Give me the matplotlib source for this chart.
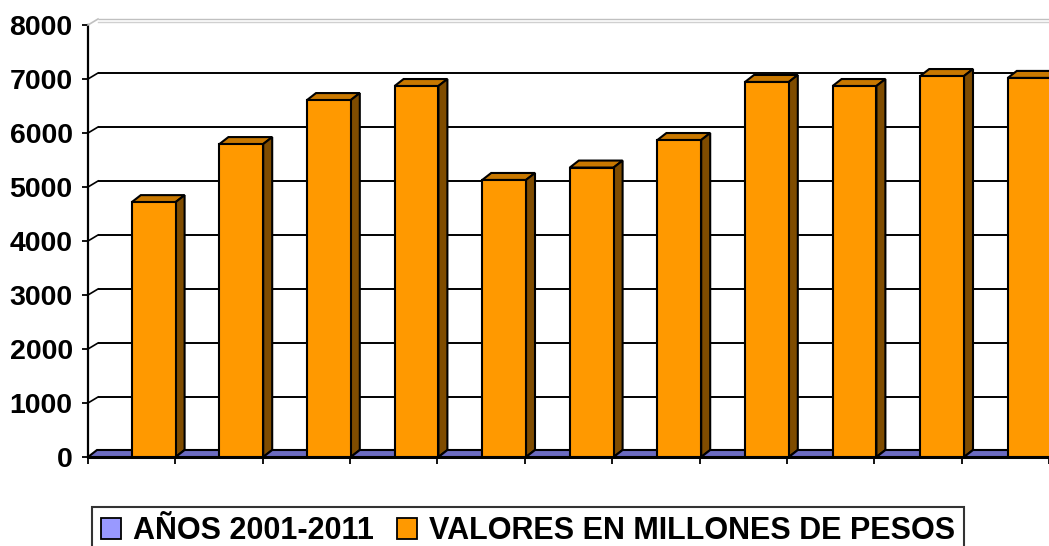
import matplotlib
matplotlib.use("Agg")
import matplotlib.pyplot as plt
from matplotlib.patches import Polygon, Patch
from matplotlib import transforms

plt.rcParams['font.family'] = ['Liberation Sans', 'DejaVu Sans']

years = ["2001", "2002", "2003", "2004", "2005", "2006", "2007", "2008", "2009", "2010", "2011"]
anos_values = [0, 0, 0, 0, 0, 0, 0, 0, 0, 0, 0]
valores = [4720, 5795, 6610, 6870, 5130, 5360, 5870, 6945, 6870, 7055, 7020]
yticks = [0, 1000, 2000, 3000, 4000, 5000, 6000, 7000, 8000]
series_names = ["AÑOS 2001-2011", "VALORES EN MILLONES DE PESOS"]

W, H = 1049, 546
fig = plt.figure(figsize=(W / 100, H / 100), dpi=100)
x0_px, y0_px, ytop_px, cat_px = 88, 457, 25, 87.6
ax = fig.add_axes([x0_px / W, (H - y0_px) / H, (W - x0_px) / W, (y0_px - ytop_px) / H])
ax.set_xlim(0, (W - x0_px) / cat_px)
ax.set_ylim(0, 8000)

# depth offsets (pixels)
bdx, bdy = 9, 7
wdx, wdy = 10, 6
bar_off = transforms.offset_copy(ax.transData, fig=fig, x=bdx, y=bdy, units='dots')
wall_off = transforms.offset_copy(ax.transData, fig=fig, x=wdx, y=wdy, units='dots')

n = len(years)
# back-wall gridlines
for yv in yticks[1:]:
    col = '#C0C0C0' if yv == 8000 else 'black'
    ax.plot([0, n + 1], [yv, yv], transform=wall_off, color=col, lw=1.4 if yv < 8000 else 1.0,
            zorder=1, clip_on=False, solid_capstyle='butt')
    disp0 = ax.transData.transform((0, yv))
    disp1 = wall_off.transform((0, yv))
    fig.add_artist(plt.Line2D([disp0[0], disp1[0]], [disp0[1], disp1[1]], transform=None,
                              color=col, lw=1.2, zorder=1))
ax.plot([0, n + 1], [8000, 8000], transform=transforms.offset_copy(
    ax.transData, fig=fig, x=wdx, y=wdy - 3, units='dots'),
    color='#D0D0D0', lw=1.0, zorder=1, clip_on=False)


def to_disp(trans, x, y):
    return tuple(trans.transform((x, y)))


def draw_box(x_left, x_right, h, front, top, side, z):
    fl = to_disp(ax.transData, x_left, 0)
    fr = to_disp(ax.transData, x_right, 0)
    tl = to_disp(ax.transData, x_left, h)
    tr = to_disp(ax.transData, x_right, h)
    btl = to_disp(bar_off, x_left, h)
    btr = to_disp(bar_off, x_right, h)
    bbr = to_disp(bar_off, x_right, 0)
    kw = dict(closed=True, transform=None, edgecolor='black', lw=1.5, joinstyle='miter')
    fig.add_artist(Polygon([tl, tr, btr, btl], facecolor=top, zorder=z, **kw))
    if h > 0:
        fig.add_artist(Polygon([fr, bbr, btr, tr], facecolor=side, zorder=z, **kw))
        fig.add_artist(Polygon([fl, fr, tr, tl], facecolor=front, zorder=z + 0.1, **kw))


for i in range(n):
    z = 3 + i
    draw_box(i, i + 0.5, anos_values[i], '#9999FF', '#6B6BC0', '#4D4D99', z)
    draw_box(i + 0.5, i + 1.0, valores[i], '#FF9900', '#C87800', '#7F4C00', z + 0.5)

for s in ['top', 'right']:
    ax.spines[s].set_visible(False)
ax.spines['left'].set_linewidth(1.6)
ax.spines['bottom'].set_linewidth(2.2)
ax.spines['bottom'].set_zorder(40)
ax.spines['bottom'].set_bounds(0, n + 1)
ax.set_yticks(yticks)
ax.set_yticklabels([str(v) for v in yticks], fontsize=20.5, fontweight='bold')
ax.set_xticks(range(n + 1))
ax.set_xticklabels([])
ax.tick_params(axis='y', direction='out', length=4.5, width=1.3, pad=6.5)
ax.tick_params(axis='x', direction='out', length=5, width=1.3)
ax.patch.set_visible(False)

handles = [Patch(facecolor='#9999FF', edgecolor='black', lw=1.3),
           Patch(facecolor='#FF9900', edgecolor='black', lw=1.3)]
leg = fig.legend(handles, series_names, loc='upper left', bbox_to_anchor=(92 / W, 39 / H),
                 ncol=2, frameon=True, fancybox=False, shadow=False,
                 prop={'family': 'Liberation Sans', 'weight': 'bold', 'size': 22},
                 handlelength=0.65, handleheight=0.65, handletextpad=0.4,
                 columnspacing=0.75, borderpad=0.3, borderaxespad=0)
leg.get_frame().set_edgecolor('black')
leg.get_frame().set_linewidth(1.5)

fig.savefig('out.png', dpi=100)
